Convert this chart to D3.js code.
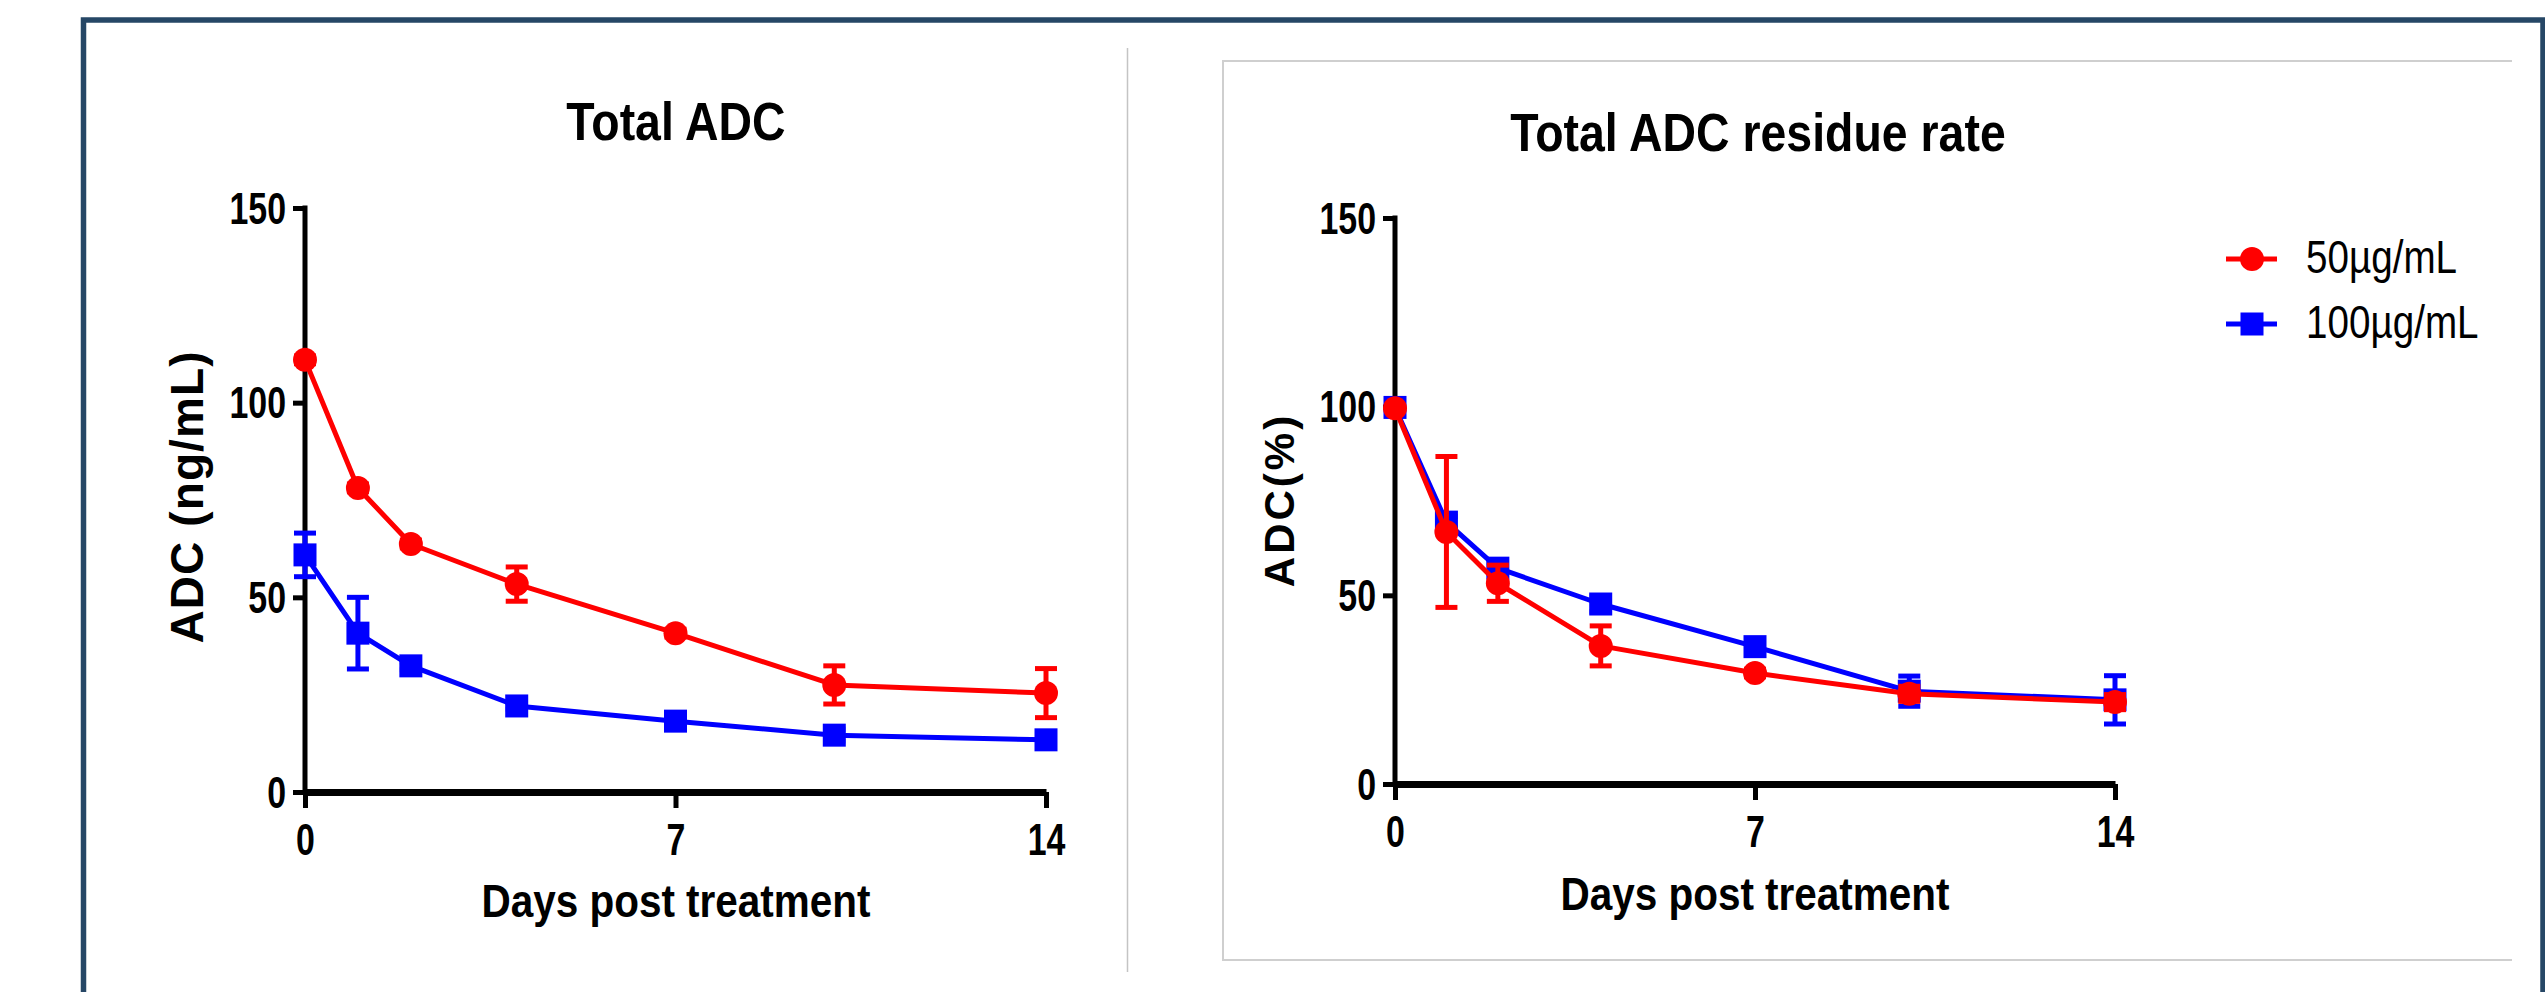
<!DOCTYPE html>
<html>
<head>
<meta charset="utf-8">
<script src="https://cdn.jsdelivr.net/npm/d3@7"></script>
<style>
  html, body { margin: 0; padding: 0; background: #fff; }
  svg { display: block; }
  text { font-family: "Liberation Sans", Arial, Helvetica, sans-serif; fill: #000; }
</style>
</head>
<body>
<svg id="chart" width="2545" height="992"></svg>
<script>
// ---------------- data ----------------
const days = [0, 1, 2, 4, 7, 10, 14];
const seriesNames = ["50µg/mL", "100µg/mL"];

// Total ADC (ng/mL)
const totalLow = [111, 78.1, 63.7, 53.4, 40.8, 27.5, 25.4];
const totalLowErr = [1, 1, 1, 4.4, 1, 4.9, 6.3];
const totalHigh = [60.9, 40.8, 32.4, 22.1, 18.2, 14.6, 13.4];
const totalHighErr = [5.6, 9.2, 1, 0.8, 0.8, 1.5, 1.5];

// Total ADC residue rate (%)
const rateLow = [99.6, 66.8, 53.2, 36.6, 29.4, 23.9, 21.7];
const rateLowErr = [0.5, 20, 4.8, 5.3, 1, 2, 2];
const rateHigh = [99.8, 69.4, 57.2, 47.7, 36.4, 24.6, 22.3];
const rateHighErr = [1.5, 1.5, 1.5, 2, 2, 4, 6.4];

const xTicks = [0, 7, 14];
const yTicks = [0, 50, 100, 150];

const titles = ["Total ADC", "Total ADC residue rate"];
const xLabel = "Days post treatment";
const yLabels = ["ADC (ng/mL)", "ADC(%)"];

const RED = "#ff0000", BLUE = "#0000ff";

// ---------------- drawing ----------------
const svg = d3.select("#chart");
svg.append("rect").attr("width", 2545).attr("height", 992).attr("fill", "#fff");

// outer frame
svg.append("path")
  .attr("d", "M83.5,992 L83.5,20 L2543,20 L2543,992")
  .attr("fill", "none").attr("stroke", "#264766").attr("stroke-width", 5.5);

// divider
svg.append("line").attr("x1", 1127.5).attr("x2", 1127.5).attr("y1", 48).attr("y2", 972)
  .attr("stroke", "#c4c4c4").attr("stroke-width", 1.5);

// right panel box
svg.append("path")
  .attr("d", "M2512,61 L1223,61 L1223,960 L2512,960")
  .attr("fill", "none").attr("stroke", "#cfcfcf").attr("stroke-width", 2);

function sText(g, str, x, y, size, sx, opts = {}) {
  const t = g.append("text")
    .attr("transform", `translate(${x},${y}) scale(${sx},1)`)
    .attr("font-size", size)
    .attr("font-weight", opts.weight || "bold")
    .attr("text-anchor", opts.anchor || "middle")
    .text(str);
  return t;
}

function panel(cfg) {
  const g = svg.append("g");
  const x = d3.scaleLinear().domain([0, 14]).range([cfg.x0, cfg.x1]);
  const y = d3.scaleLinear().domain([0, 150]).range([cfg.y0, cfg.y1]);

  // title
  sText(g, cfg.title, cfg.titleX, cfg.titleY, 54, 0.86);

  // y axis
  const ya = g.append("g").attr("transform", `translate(${cfg.x0},0)`)
    .call(d3.axisLeft(y).tickValues(yTicks).tickSize(12).tickSizeOuter(0).tickPadding(0));
  ya.select(".domain").attr("stroke", "#000").attr("stroke-width", 5)
    .attr("d", `M0,${cfg.y1 - 2.5}V${cfg.y0}`);
  ya.selectAll(".tick line").attr("stroke", "#000").attr("stroke-width", 5);
  ya.selectAll(".tick text")
    .attr("font-size", 44).attr("font-weight", "bold")
    .attr("font-family", '"Liberation Sans", Arial, sans-serif')
    .attr("text-anchor", "end").attr("dy", null)
    .attr("x", -19 / 0.77).attr("y", 15)
    .attr("transform", "scale(0.77,1)");

  // x axis
  const xa = g.append("g").attr("transform", `translate(0,${cfg.y0})`)
    .call(d3.axisBottom(x).tickValues(xTicks).tickSize(16).tickSizeOuter(0).tickPadding(0));
  xa.select(".domain").attr("stroke", "#000").attr("stroke-width", 7);
  xa.selectAll(".tick line").attr("stroke", "#000").attr("stroke-width", 5);
  xa.selectAll(".tick text")
    .attr("font-size", 44).attr("font-weight", "bold")
    .attr("font-family", '"Liberation Sans", Arial, sans-serif')
    .attr("dy", null).attr("y", 63)
    .attr("transform", "scale(0.77,1)");

  // axis titles
  sText(g, xLabel, cfg.xlabX, cfg.xlabY, 46, 0.88);
  g.append("text")
    .attr("transform", `translate(${cfg.ylabX},${cfg.ylabY}) rotate(-90)`)
    .attr("font-size", cfg.ylabSize).attr("font-weight", "bold")
    .attr("letter-spacing", cfg.ylabLS)
    .attr("text-anchor", "middle")
    .text(cfg.ylab);

  const line = d3.line().x((d, i) => x(days[i])).y(d => y(d));

  function series(vals, errs, color, shape) {
    const sg = g.append("g");
    sg.append("path").datum(vals).attr("d", line)
      .attr("fill", "none").attr("stroke", color).attr("stroke-width", 5)
      .attr("stroke-linejoin", "round");
    const eb = sg.selectAll(".eb").data(vals).enter().append("g");
    eb.append("line")
      .attr("x1", (d, i) => x(days[i])).attr("x2", (d, i) => x(days[i]))
      .attr("y1", (d, i) => y(d + errs[i])).attr("y2", (d, i) => y(d - errs[i]))
      .attr("stroke", color).attr("stroke-width", 5);
    [1, -1].forEach(s => {
      eb.append("line")
        .attr("x1", (d, i) => x(days[i]) - 11).attr("x2", (d, i) => x(days[i]) + 11)
        .attr("y1", (d, i) => y(d + s * errs[i])).attr("y2", (d, i) => y(d + s * errs[i]))
        .attr("stroke", color).attr("stroke-width", 5);
    });
    if (shape === "circle") {
      sg.selectAll(".m").data(vals).enter().append("circle")
        .attr("cx", (d, i) => x(days[i])).attr("cy", d => y(d)).attr("r", 12)
        .attr("fill", color);
    } else {
      sg.selectAll(".m").data(vals).enter().append("rect")
        .attr("x", (d, i) => x(days[i]) - 11.5).attr("y", d => y(d) - 11.5)
        .attr("width", 23).attr("height", 23).attr("fill", color);
    }
  }
  series(cfg.high, cfg.highErr, BLUE, "square");
  series(cfg.low, cfg.lowErr, RED, "circle");
}

panel({
  x0: 305, x1: 1046, y0: 792, y1: 208,
  title: titles[0], titleX: 676, titleY: 140,
  xlabX: 676, xlabY: 917,
  ylab: yLabels[0], ylabX: 203, ylabY: 497, ylabSize: 46, ylabLS: 1.1,
  low: totalLow, lowErr: totalLowErr, high: totalHigh, highErr: totalHighErr
});

panel({
  x0: 1395, x1: 2115, y0: 784, y1: 218,
  title: titles[1], titleX: 1758, titleY: 151,
  xlabX: 1755, xlabY: 910,
  ylab: yLabels[1], ylabX: 1294, ylabY: 500, ylabSize: 42, ylabLS: 3,
  low: rateLow, lowErr: rateLowErr, high: rateHigh, highErr: rateHighErr
});

// legend
const lg = svg.append("g");
const legendItems = [
  { name: seriesNames[0], color: RED, shape: "circle", y: 259 },
  { name: seriesNames[1], color: BLUE, shape: "square", y: 324 }
];
legendItems.forEach(it => {
  lg.append("line").attr("x1", 2226).attr("x2", 2277).attr("y1", it.y).attr("y2", it.y)
    .attr("stroke", it.color).attr("stroke-width", 5);
  if (it.shape === "circle") {
    lg.append("circle").attr("cx", 2252).attr("cy", it.y).attr("r", 12).attr("fill", it.color);
  } else {
    lg.append("rect").attr("x", 2240.5).attr("y", it.y - 11.5).attr("width", 23).attr("height", 23).attr("fill", it.color);
  }
  sText(lg, it.name, 2306, it.y + 14, 46, 0.84, { weight: "normal", anchor: "start" });
});
</script>
</body>
</html>
